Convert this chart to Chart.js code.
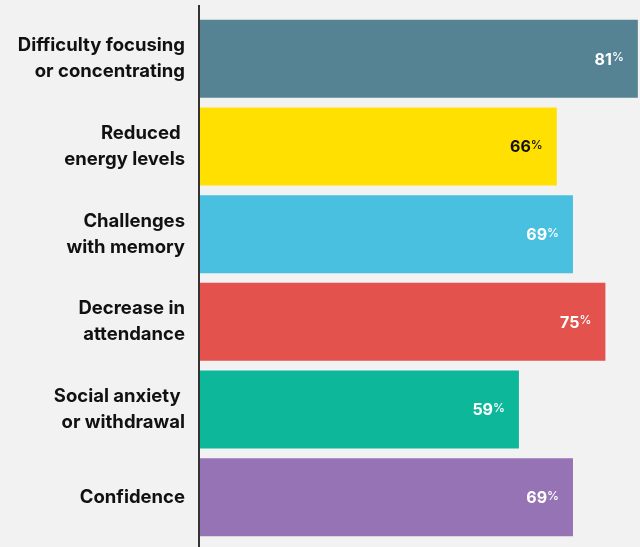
<!DOCTYPE html>
<html>
<head>
<meta charset="utf-8">
<script src="https://cdn.jsdelivr.net/npm/chart.js@4"></script>
<style>
  body { margin: 0; background: #f2f2f2; }
  #wrap { width: 640px; height: 547px; position: relative; }
</style>
</head>
<body>
<div id="wrap"><canvas id="bars"></canvas></div>
<script>
let labels = [
    ['Difficulty focusing', 'or concentrating'],
    ['Reduced ', 'energy levels'],
    ['Challenges', 'with memory'],
    ['Decrease in', 'attendance'],
    ['Social anxiety ', 'or withdrawal'],
    'Confidence'
]
let values = [81, 66, 69, 75, 59, 69]
let colors = ['#568393', '#ffe000', '#49c0e0', '#e3524c', '#0db89a', '#9673b4']
let labelColors = ['#fff', '#111', '#fff', '#fff', '#fff', '#fff']

let canvas_tag = document.getElementById('bars')

// percent labels + the axis line that runs past the chart area
let valueLabels = {
    id: 'valueLabels',
    afterDatasetsDraw(chart) {
        let ctx = chart.ctx
        let meta = chart.getDatasetMeta(0)
        ctx.save()
        ctx.textBaseline = 'middle'
        meta.data.forEach((bar, i) => {
            let right = bar.x - 14
            ctx.fillStyle = labelColors[i]
            ctx.font = '500 12px Inter'
            ctx.textAlign = 'right'
            let pw = ctx.measureText('%').width
            ctx.fillText('%', right, bar.y - 1)
            ctx.font = '700 16px Inter'
            ctx.fillText(values[i], right - pw, bar.y + 1)
        })
        ctx.strokeStyle = '#333'
        ctx.lineWidth = 2
        ctx.beginPath()
        ctx.moveTo(chart.chartArea.left - 1, 5)
        ctx.lineTo(chart.chartArea.left - 1, chart.height)
        ctx.stroke()
        ctx.restore()
    }
}

new Chart(canvas_tag, {
    type: 'bar',
    data: {
        labels: labels,
        datasets: [{
            data: values,
            backgroundColor: colors,
            barPercentage: 0.89,
            categoryPercentage: 1
        }]
    },
    options: {
        indexAxis: 'y',
        responsive: true,
        maintainAspectRatio: false,
        animation: false,
        layout: { padding: { top: 15, bottom: 6, right: 0, left: 0 } },
        plugins: {
            legend: { display: false },
            tooltip: { enabled: false }
        },
        scales: {
            x: {
                display: false,
                min: 0,
                max: 81.4
            },
            y: {
                afterFit(scale) {
                    scale.width = 200
                    scale.paddingTop = 0
                    scale.paddingBottom = 0
                },
                grid: { display: false, drawTicks: false },
                border: { display: false },
                ticks: {
                    color: '#111',
                    padding: 15,
                    font: { family: 'Inter', size: 18.5, weight: '700', lineHeight: 1.4 }
                }
            }
        }
    },
    plugins: [valueLabels]
});
</script>
</body>
</html>
